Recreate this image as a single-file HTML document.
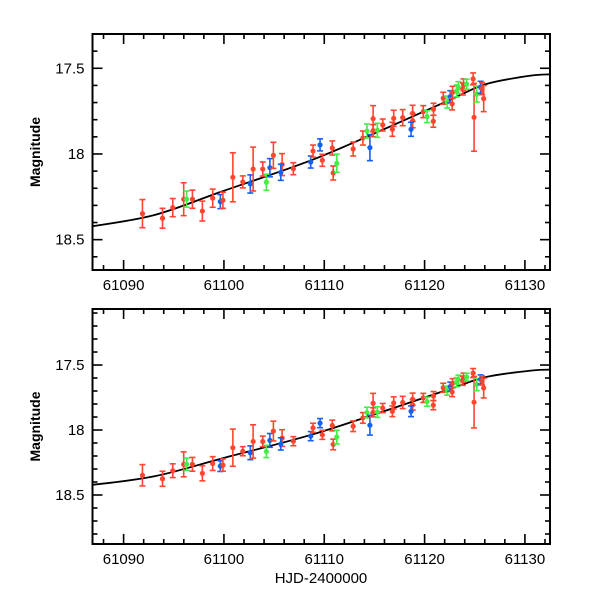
<!DOCTYPE html>
<html><head><meta charset="utf-8"><style>
html,body{margin:0;padding:0;background:#fff;}
svg text{font-family:"Liberation Sans",sans-serif;}
</style></head><body>
<svg id="chart" width="600" height="600" viewBox="0 0 600 600"></svg>
<script>
const days=[61091.88,61093.88,61094.90,61095.99,61096.28,61096.86,61097.85,61098.88,61099.64,61099.90,61100.89,61101.88,61102.63,61102.91,61103.87,61104.23,61104.58,61104.93,61105.80,61105.67,61106.92,61108.65,61108.88,61109.58,61109.81,61110.80,61110.89,61111.25,61112.88,61113.85,61114.26,61114.55,61114.87,61114.87,61115.29,61115.83,61116.79,61116.92,61117.82,61118.81,61118.81,61118.65,61119.87,61120.25,61120.87,61120.89,61121.86,61122.24,61122.56,61122.75,61122.79,61123.20,61123.37,61123.81,61123.88,61124.19,61124.84,61124.93,61125.19,61125.58,61125.73,61125.89];
const mags=[18.348,18.375,18.313,18.264,18.263,18.264,18.333,18.258,18.278,18.270,18.136,18.163,18.175,18.088,18.088,18.165,18.080,18.008,18.062,18.107,18.086,18.047,17.983,17.947,18.037,17.965,18.111,18.054,17.971,17.907,17.866,17.963,17.864,17.794,17.862,17.831,17.856,17.792,17.788,17.806,17.763,17.856,17.753,17.782,17.809,17.739,17.675,17.697,17.666,17.708,17.640,17.632,17.613,17.621,17.597,17.593,17.562,17.786,17.650,17.611,17.619,17.677];
const errs=[0.082,0.058,0.053,0.096,0.047,0.053,0.058,0.053,0.041,0.047,0.143,0.035,0.053,0.128,0.041,0.047,0.053,0.076,0.064,0.047,0.035,0.035,0.035,0.035,0.035,0.041,0.041,0.053,0.041,0.041,0.041,0.076,0.035,0.076,0.041,0.035,0.041,0.047,0.047,0.041,0.047,0.041,0.035,0.035,0.035,0.035,0.035,0.035,0.035,0.035,0.035,0.035,0.035,0.035,0.035,0.029,0.035,0.198,0.047,0.035,0.035,0.076];
const bands=["r","r","r","r","g","r","r","r","b","r","r","r","b","r","r","g","b","r","r","b","r","b","r","b","r","r","r","g","r","r","g","b","r","r","g","r","r","r","r","r","r","b","r","g","r","r","r","g","b","r","r","g","g","r","r","g","r","r","g","b","r","r"];
const modelDays=[61085.5,61086.66,61093.08,61099.93,61108.78,61116.47,61122.88,61126.08,61130.58,61133];
const modelMags=[18.432,18.424,18.356,18.216,18.035,17.842,17.675,17.593,17.543,17.535];
const xTicks=[61090,61100,61110,61120,61130];
const yTicks=[17.5,18,18.5];
const colors={r:"#ff4530",g:"#44ee44",b:"#1460f0"};
const NS="http://www.w3.org/2000/svg";
const svg=document.getElementById('chart');
function mk(tag,attrs,parent){const e=document.createElementNS(NS,tag);for(const k in attrs)e.setAttribute(k,attrs[k]);(parent||svg).appendChild(e);return e;}
const X0=92.5,X1=550,D0=61086.9,D1=61132.5;
const xs=d=>X0+(d-D0)/(D1-D0)*(X1-X0);
function panel(top,bottom,m0,m1,id,showX){
  const g=mk('g',{});
  
  
  const ys=m=>top+(m-m0)/(m1-m0)*(bottom-top);
  const cp=mk('clipPath',{id:'clip'+id},g);
  mk('rect',{x:X0,y:top,width:X1-X0,height:bottom-top},cp);
  // model curve via Catmull-Rom
  const P=modelDays.map((d,i)=>[xs(d),ys(modelMags[i])]);
  let dstr='M'+P[0][0]+','+P[0][1];
  for(let i=0;i<P.length-1;i++){const p0=P[Math.max(0,i-1)],p1=P[i],p2=P[i+1],p3=P[Math.min(P.length-1,i+2)];
    dstr+=' C'+(p1[0]+(p2[0]-p0[0])/6)+','+(p1[1]+(p2[1]-p0[1])/6)+' '+(p2[0]-(p3[0]-p1[0])/6)+','+(p2[1]-(p3[1]-p1[1])/6)+' '+p2[0]+','+p2[1];}
  const curve=mk('path',{d:dstr,fill:'none',stroke:'#000','stroke-width':1.8,'clip-path':'url(#clip'+id+')'},g);
  
  
  days.forEach((d,i)=>{
    const c=colors[bands[i]],x=xs(d),y=ys(mags[i]),y1=ys(mags[i]-errs[i]),y2=ys(mags[i]+errs[i]);
    const pg=mk('g',{stroke:c,fill:c,'stroke-width':1.6},g);
    
    
    mk('line',{x1:x,y1:y1,x2:x,y2:y2},pg);
    mk('line',{x1:x-3,y1:y1,x2:x+3,y2:y1},pg);
    mk('line',{x1:x-3,y1:y2,x2:x+3,y2:y2},pg);
    mk('circle',{cx:x,cy:y,r:2.6,stroke:'none'},pg);
  });
  // ticks
  const tk=mk('g',{stroke:'#000','stroke-width':1.6},g);
  for(let d=61088;d<=61132;d+=2){const x=xs(d),big=d%10===0,L=big?10:5;
    mk('line',{x1:x,y1:bottom,x2:x,y2:bottom-L},tk);mk('line',{x1:x,y1:top,x2:x,y2:top+L},tk);}
  for(let k=Math.ceil(m0*10);k<=Math.floor(m1*10);k++){const y=ys(k/10),big=k%5===0,L=big?10:5;
    mk('line',{x1:X0,y1:y,x2:X0+L,y2:y},tk);mk('line',{x1:X1,y1:y,x2:X1-L,y2:y},tk);}
  const fr=mk('rect',{x:X0,y:top,width:X1-X0,height:bottom-top,fill:'none',stroke:'#000','stroke-width':2},g);
  
  
  xTicks.forEach(v=>{const t=mk('text',{x:xs(v),y:bottom+20,'text-anchor':'middle','font-size':15},g);t.textContent=v;
    });
  yTicks.forEach(v=>{const t=mk('text',{x:X0-8,y:ys(v)+5,'text-anchor':'end','font-size':15},g);t.textContent=v;
    });
  const yl=mk('text',{x:0,y:0,'text-anchor':'middle','font-size':14,'font-weight':'bold',transform:'translate(40,'+((top+bottom)/2)+') rotate(-90)'},g);
  yl.textContent='Magnitude';
  
  
  if(showX){const xl=mk('text',{x:321,y:583,'text-anchor':'middle','font-size':15},g);xl.textContent='HJD-2400000';
    }
}
panel(34,270,17.30,18.677,'top-panel',false);
panel(309,544,17.069,18.877,'bottom-panel',true);
</script>
</body></html>
